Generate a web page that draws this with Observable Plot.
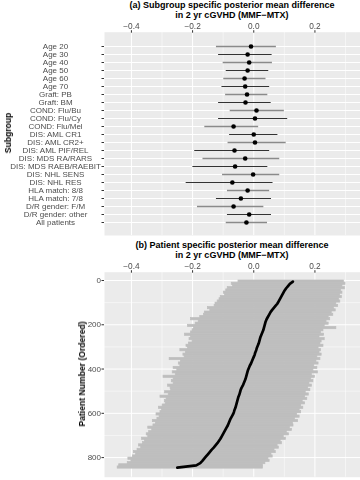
<!DOCTYPE html>
<html><head><meta charset="utf-8">
<script src="https://cdn.jsdelivr.net/npm/d3@7"></script>
<script src="https://cdn.jsdelivr.net/npm/@observablehq/plot@0.6"></script>
<style>
body{margin:0;background:#fff;font-family:"Liberation Sans",Arial,sans-serif;}
#wrap{position:relative;width:360px;height:480px;overflow:hidden;background:#fff;}
.title{position:absolute;left:104px;width:256px;text-align:center;font-weight:bold;font-size:9px;line-height:9.5px;color:#000;white-space:nowrap;}
.box{position:absolute;left:0;will-change:transform;}
.ylab{position:absolute;font-weight:bold;font-size:8.6px;white-space:nowrap;color:#000;transform:translate(-50%,-50%) rotate(-90deg);}
svg text{font-family:"Liberation Sans",Arial,sans-serif;}
</style></head><body>
<div id="wrap">
<div class="title" style="top:1px">(a) Subgroup specific posterior mean difference<br>in 2 yr cGVHD (MMF−MTX)</div>
<div id="pa" class="box" style="top:20px"></div>
<div class="ylab" style="left:8px;top:133px">Subgroup</div>
<div class="title" style="top:241px">(b) Patient specific posterior mean difference<br>in 2 yr cGVHD (MMF−MTX)</div>
<div id="pb" class="box" style="top:258px"></div>
<div class="ylab" style="left:82px;top:374px">Patient Number (Ordered)</div>
</div>
<script>
// ---------- Panel (a) data ----------
const subgroups = ["Age 20","Age 30","Age 40","Age 50","Age 60","Age 70","Graft: PB","Graft: BM",
  "COND: Flu/Bu","COND: Flu/Cy","COND: Flu/Mel","DIS: AML CR1","DIS: AML CR2+","DIS: AML PIF/REL",
  "DIS: MDS RA/RARS","DIS: MDS RAEB/RAEBIT","DIS: NHL SENS","DIS: NHL RES","HLA match: 8/8",
  "HLA match: 7/8","D/R gender: F/M","D/R gender: other","All patients"];
const subMean  = [-0.009,-0.020,-0.015,-0.020,-0.030,-0.028,-0.022,-0.027,0.009,0.004,-0.066,0.000,0.004,-0.063,-0.028,-0.061,-0.002,-0.070,-0.020,-0.042,-0.066,-0.015,-0.024];
const subLower = [-0.122,-0.115,-0.100,-0.090,-0.098,-0.104,-0.092,-0.115,-0.077,-0.115,-0.160,-0.079,-0.084,-0.193,-0.166,-0.199,-0.102,-0.221,-0.086,-0.122,-0.184,-0.086,-0.090];
const subUpper = [0.074,0.060,0.061,0.049,0.040,0.052,0.046,0.057,0.100,0.111,0.016,0.079,0.106,0.052,0.085,0.046,0.085,0.063,0.052,0.058,0.033,0.058,0.045];

const xTicks = [-0.4,-0.2,0.0,0.2];
const xMinor = [-0.3,-0.1,0.1,0.3];

// ---------- Panel (b) data (patients grouped in blocks of 10, ordered) ----------
const patMean = [0.128,0.118,0.112,0.106,0.101,0.097,0.093,0.089,0.085,0.081,0.077,0.071,0.065,0.059,0.054,0.050,0.046,0.042,0.039,0.037,
  0.035,0.033,0.031,0.028,0.025,0.022,0.020,0.018,0.016,0.013,0.010,0.008,0.005,0.003,0.000,-0.003,-0.006,-0.009,-0.013,-0.016,
  -0.019,-0.021,-0.023,-0.025,-0.027,-0.030,-0.033,-0.036,-0.040,-0.043,-0.045,-0.047,-0.050,-0.052,-0.054,-0.056,-0.058,-0.060,-0.063,-0.065,
  -0.068,-0.072,-0.076,-0.079,-0.082,-0.085,-0.089,-0.093,-0.097,-0.101,-0.105,-0.109,-0.114,-0.119,-0.125,-0.131,-0.138,-0.144,-0.150,-0.156,
  -0.162,-0.168,-0.175,-0.188,-0.250];
const patLower = [-0.050,-0.072,-0.068,-0.085,-0.090,-0.098,-0.094,-0.108,-0.112,-0.118,-0.125,-0.128,-0.150,-0.142,-0.160,-0.163,-0.175,-0.205,-0.180,-0.190,
  -0.215,-0.195,-0.200,-0.205,-0.225,-0.205,-0.210,-0.200,-0.212,-0.220,-0.215,-0.240,-0.222,-0.230,-0.226,-0.275,-0.238,-0.245,-0.240,-0.262,
  -0.250,-0.265,-0.255,-0.295,-0.262,-0.268,-0.262,-0.280,-0.272,-0.270,-0.290,-0.278,-0.305,-0.285,-0.290,-0.288,-0.298,-0.310,-0.300,-0.305,
  -0.318,-0.308,-0.315,-0.330,-0.320,-0.328,-0.345,-0.332,-0.342,-0.350,-0.345,-0.365,-0.356,-0.362,-0.375,-0.368,-0.380,-0.392,-0.385,-0.395,
  -0.410,-0.400,-0.412,-0.440,-0.445];
const patUpper = [0.295,0.300,0.290,0.298,0.285,0.290,0.282,0.288,0.279,0.283,0.270,0.276,0.262,0.268,0.255,0.260,0.245,0.250,0.238,0.245,
  0.232,0.270,0.228,0.220,0.230,0.215,0.232,0.222,0.218,0.228,0.212,0.220,0.215,0.222,0.208,0.218,0.205,0.212,0.198,0.208,
  0.195,0.210,0.190,0.200,0.188,0.195,0.182,0.190,0.178,0.185,0.170,0.180,0.168,0.175,0.160,0.168,0.155,0.162,0.150,0.155,
  0.142,0.150,0.135,0.145,0.128,0.130,0.118,0.125,0.108,0.115,0.098,0.105,0.088,0.092,0.078,0.082,0.068,0.072,0.058,0.062,
  0.048,0.052,0.038,0.030,0.030];
const blockSize = 10;
const yTicksB = [0,200,400,600,800];
const yMinorB = [100,300,500,700];

// ---------- build ----------
const rowsA = subgroups.map((s,i)=>({s, m:subMean[i], lo:subLower[i], hi:subUpper[i], dark:i%2===1}));
const rowsB = patMean.map((m,i)=>({p0:i*blockSize, p1:(i+1)*blockSize, p:i*blockSize+blockSize/2, m, lo:patLower[i], hi:patUpper[i]}));

const font = '"Liberation Sans",Arial,sans-serif';
const fmt = d3.format(".1f");
const xDomain = [-0.488, 0.349];

const plotA = Plot.plot({
  width:360, height:218, marginLeft:104, marginRight:0, marginTop:11.7, marginBottom:3,
  style:{fontFamily:font, fontSize:"8.2px", color:"#333", background:"transparent", overflow:"visible"},
  x:{domain:xDomain, axis:null},
  y:{type:"point", domain:subgroups, range:[21.3, 207.3], axis:null},
  marks:[
    Plot.frame({fill:"#EBEBEB", stroke:null}),
    Plot.gridX(xMinor, {stroke:"#fff", strokeOpacity:1, strokeWidth:0.5}),
    Plot.gridX(xTicks, {stroke:"#fff", strokeOpacity:1, strokeWidth:1}),
    Plot.gridY(subgroups, {stroke:"#fff", strokeOpacity:1, strokeWidth:1}),
    Plot.axisX(xTicks, {anchor:"top", tickSize:2.5, tickPadding:1, tickFormat:fmt, label:null, fontFamily:font, fontSize:8.3, fill:"#4D4D4D"}),
    Plot.axisY(subgroups, {anchor:"left", tickSize:2.5, tickPadding:46.5, textAnchor:"middle", label:null, fontFamily:font, fontSize:8, fill:"#4D4D4D"}),
    Plot.ruleY(rowsA.filter(d=>!d.dark), {y:"s", x1:"lo", x2:"hi", stroke:"#8a8a8a", strokeWidth:1.7}),
    Plot.ruleY(rowsA.filter(d=>d.dark), {y:"s", x1:"lo", x2:"hi", stroke:"#333", strokeWidth:1.1}),
    Plot.dot(rowsA, {x:"m", y:"s", r:2.3, fill:"#000", stroke:null})
  ]
});
document.getElementById("pa").appendChild(plotA);

const plotB = Plot.plot({
  width:360, height:222, marginLeft:104, marginRight:0, marginTop:13.7, marginBottom:3.3,
  style:{fontFamily:font, fontSize:"8.3px", color:"#333", background:"transparent", overflow:"visible"},
  x:{domain:xDomain, axis:null},
  y:{domain:[-37.5, 888.6], range:[13.7, 218.7], axis:null},
  marks:[
    Plot.frame({fill:"#EBEBEB", stroke:null}),
    Plot.gridX(xMinor, {stroke:"#fff", strokeOpacity:1, strokeWidth:0.5}),
    Plot.gridX(xTicks, {stroke:"#fff", strokeOpacity:1, strokeWidth:1}),
    Plot.gridY(yMinorB, {stroke:"#fff", strokeOpacity:1, strokeWidth:0.5}),
    Plot.gridY(yTicksB, {stroke:"#fff", strokeOpacity:1, strokeWidth:1}),
    Plot.axisX(xTicks, {anchor:"top", tickSize:2.5, tickPadding:1, tickFormat:fmt, label:null, fontFamily:font, fontSize:8.3, fill:"#4D4D4D"}),
    Plot.axisY(yTicksB, {anchor:"left", tickSize:2.5, tickPadding:1, label:null, fontFamily:font, fontSize:8, fill:"#4D4D4D"}),
    Plot.rect(rowsB, {x1:"lo", x2:"hi", y1:"p0", y2:"p1", fill:"#BEBEBE", stroke:"#BEBEBE", strokeWidth:0.7}),
    Plot.line(rowsB, {x:"m", y:"p", stroke:"#000", strokeWidth:2.7, curve:"linear"})
  ]
});
document.getElementById("pb").appendChild(plotB);
</script>
</body></html>
